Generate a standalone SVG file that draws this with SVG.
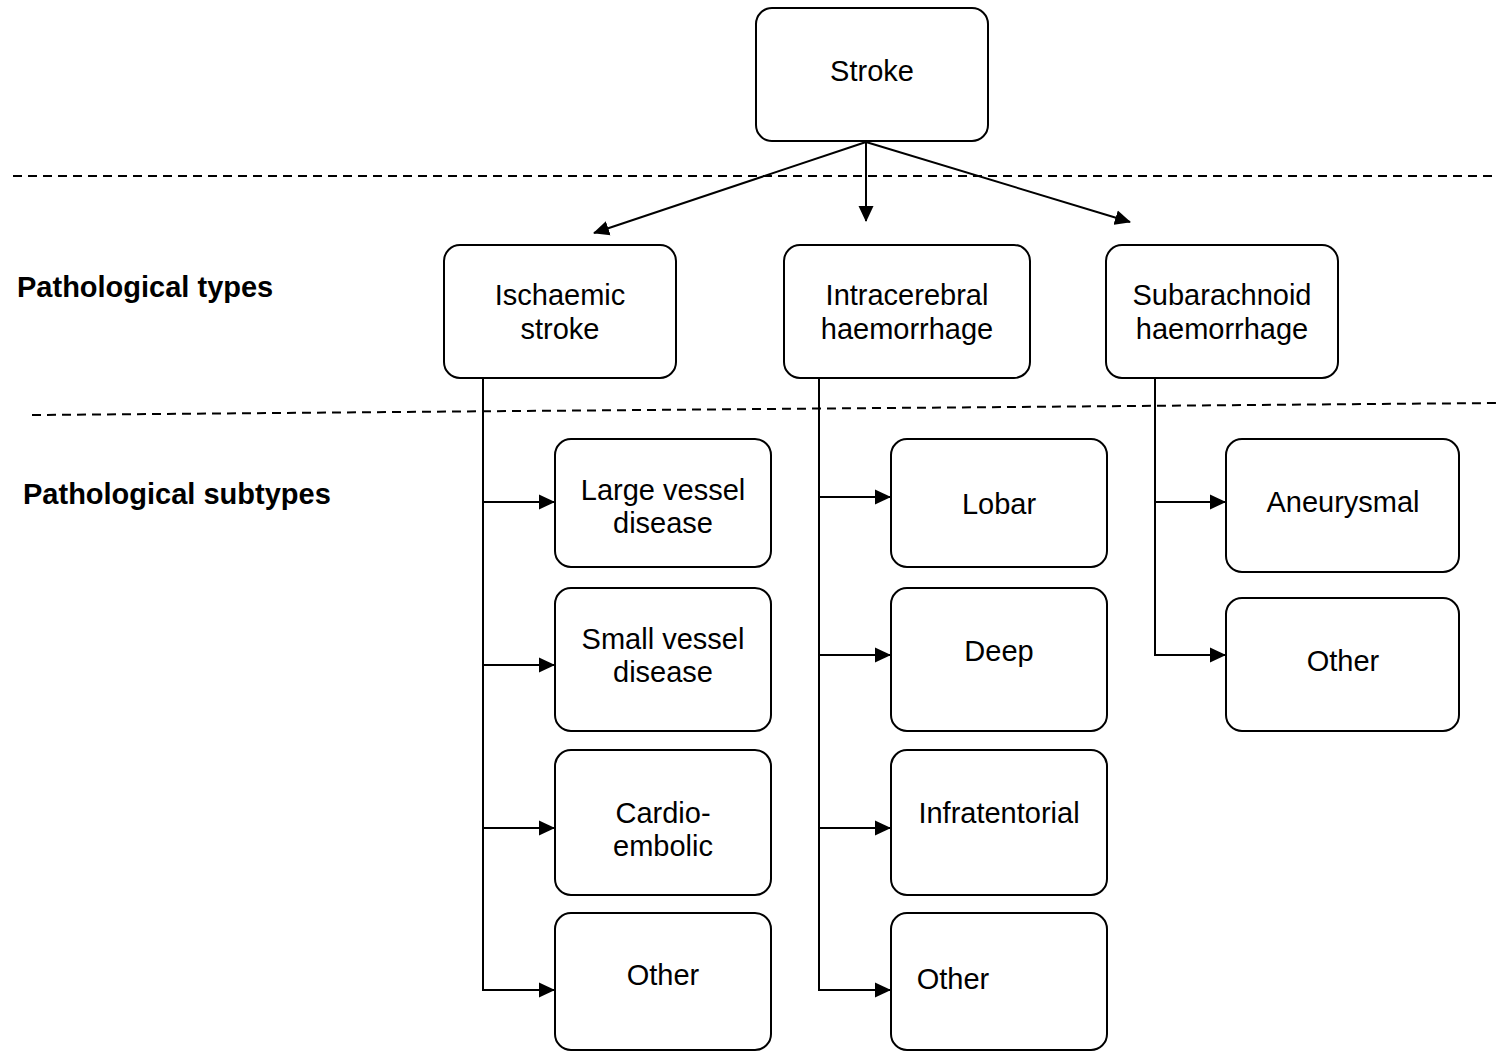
<svg xmlns="http://www.w3.org/2000/svg" width="1497" height="1053" viewBox="0 0 1497 1053">
<style>
.box{fill:#fff;stroke:#000;stroke-width:2}
.t{font-family:"Liberation Sans",Arial,sans-serif;font-size:29px;fill:#000;text-anchor:middle}
.lab{font-family:"Liberation Sans",Arial,sans-serif;font-size:29px;font-weight:bold;fill:#000}
.c{stroke:#000;stroke-width:2;fill:none}
.d{stroke:#000;stroke-width:2;stroke-dasharray:9,6;fill:none}
</style>
<defs>
<marker id="ah2" markerWidth="16" markerHeight="16" refX="15" refY="8" orient="auto" markerUnits="userSpaceOnUse" viewBox="0 0 16 16">
<path d="M0,0.5 L16,8 L0,15.5 z" fill="#000"/>
</marker>
</defs>
<g id="dividers">
<line class="d" x1="13" y1="176" x2="1497" y2="176"/>
<line class="d" x1="32" y1="415" x2="1497" y2="403"/>
</g>
<g id="labels">
<text class="lab" x="17" y="297">Pathological types</text>
<text class="lab" x="23" y="504">Pathological subtypes</text>
</g>
<g id="connectors">
<line class="c" x1="866" y1="142" x2="594" y2="233" marker-end="url(#ah2)"/>
<line class="c" x1="866" y1="142" x2="866" y2="221" marker-end="url(#ah2)"/>
<line class="c" x1="866" y1="142" x2="1130" y2="222" marker-end="url(#ah2)"/>
<path class="c" d="M483,378 V990"/>
<line class="c" x1="483" y1="502" x2="554" y2="502" marker-end="url(#ah2)"/>
<line class="c" x1="483" y1="665" x2="554" y2="665" marker-end="url(#ah2)"/>
<line class="c" x1="483" y1="828" x2="554" y2="828" marker-end="url(#ah2)"/>
<line class="c" x1="482" y1="990" x2="554" y2="990" marker-end="url(#ah2)"/>
<path class="c" d="M819,378 V990"/>
<line class="c" x1="819" y1="497" x2="890" y2="497" marker-end="url(#ah2)"/>
<line class="c" x1="819" y1="655" x2="890" y2="655" marker-end="url(#ah2)"/>
<line class="c" x1="819" y1="828" x2="890" y2="828" marker-end="url(#ah2)"/>
<line class="c" x1="818" y1="990" x2="890" y2="990" marker-end="url(#ah2)"/>
<path class="c" d="M1155,378 V655"/>
<line class="c" x1="1155" y1="502" x2="1225" y2="502" marker-end="url(#ah2)"/>
<line class="c" x1="1154" y1="655" x2="1225" y2="655" marker-end="url(#ah2)"/>
</g>
<g id="stroke"><rect class="box" x="756" y="8" width="232" height="133" rx="16"/><text class="t" x="872" y="81">Stroke</text></g>
<g id="ischaemic"><rect class="box" x="444" y="245" width="232" height="133" rx="16"/><text class="t" x="560" y="305">Ischaemic</text><text class="t" x="560" y="339">stroke</text></g>
<g id="intracerebral"><rect class="box" x="784" y="245" width="246" height="133" rx="16"/><text class="t" x="907" y="305">Intracerebral</text><text class="t" x="907" y="339">haemorrhage</text></g>
<g id="subarachnoid"><rect class="box" x="1106" y="245" width="232" height="133" rx="16"/><text class="t" x="1222" y="305">Subarachnoid</text><text class="t" x="1222" y="339">haemorrhage</text></g>
<g id="large-vessel"><rect class="box" x="555" y="439" width="216" height="128" rx="16"/><text class="t" x="663" y="500">Large vessel</text><text class="t" x="663" y="533">disease</text></g>
<g id="small-vessel"><rect class="box" x="555" y="588" width="216" height="143" rx="16"/><text class="t" x="663" y="649">Small vessel</text><text class="t" x="663" y="682">disease</text></g>
<g id="cardio"><rect class="box" x="555" y="750" width="216" height="145" rx="16"/><text class="t" x="663" y="823">Cardio-</text><text class="t" x="663" y="856">embolic</text></g>
<g id="isch-other"><rect class="box" x="555" y="913" width="216" height="137" rx="16"/><text class="t" x="663" y="985">Other</text></g>
<g id="lobar"><rect class="box" x="891" y="439" width="216" height="128" rx="16"/><text class="t" x="999" y="514">Lobar</text></g>
<g id="deep"><rect class="box" x="891" y="588" width="216" height="143" rx="16"/><text class="t" x="999" y="661">Deep</text></g>
<g id="infratentorial"><rect class="box" x="891" y="750" width="216" height="145" rx="16"/><text class="t" x="999" y="823">Infratentorial</text></g>
<g id="intra-other"><rect class="box" x="891" y="913" width="216" height="137" rx="16"/><text class="t" x="953" y="989">Other</text></g>
<g id="aneurysmal"><rect class="box" x="1226" y="439" width="233" height="133" rx="16"/><text class="t" x="1343" y="512">Aneurysmal</text></g>
<g id="sub-other"><rect class="box" x="1226" y="598" width="233" height="133" rx="16"/><text class="t" x="1343" y="671">Other</text></g>
</svg>
